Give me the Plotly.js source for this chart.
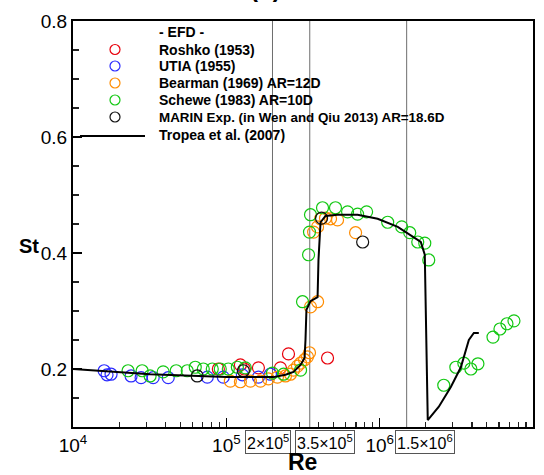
<!DOCTYPE html>
<html><head><meta charset="utf-8">
<script src="https://cdn.plot.ly/plotly-3.0.1.min.js"></script>
<style>body{margin:0;background:#fff}#chart{width:544px;height:475px}</style>
</head><body><div id="chart"></div>
<script>
// ---- data ----
const roshkoRe = [88700, 123500, 131200, 161900, 225300, 254300, 457100];
const roshkoSt = [0.200, 0.207, 0.200, 0.202, 0.202, 0.226, 0.219];

const utiaRe = [15960, 16670, 17710, 23920, 27800, 33330, 41780, 75160, 95530, 127200, 161900, 194000];
const utiaSt = [0.197, 0.190, 0.191, 0.188, 0.185, 0.185, 0.185, 0.186, 0.186, 0.190, 0.186, 0.191];

const bearmanRe = [106200, 123500, 143600, 166900, 188200, 215500, 243000, 262000, 274000, 291000, 304800, 323700, 338200, 348600, 353900, 393600, 370800, 393600, 411500, 443400, 478200, 531100, 696600];
const bearmanSt = [0.179, 0.178, 0.179, 0.179, 0.183, 0.186, 0.188, 0.191, 0.198, 0.205, 0.210, 0.216, 0.221, 0.228, 0.307, 0.316, 0.436, 0.445, 0.459, 0.460, 0.459, 0.457, 0.435];

const scheweRe = [22860, 28240, 31830, 38730, 47100, 55590, 62700, 70760, 80960, 91300, 103000, 118000, 133100, 200000, 236000, 304800, 314000, 343800, 348600, 353900, 423900, 515000, 617700, 718000, 822000, 1128000, 1393000, 1571000, 1772000, 1969000, 2090000, 2618000, 3139000, 3540000, 3935000, 4374000, 5484000, 6087000, 6763000, 7513000];
const scheweSt = [0.197, 0.197, 0.188, 0.195, 0.197, 0.197, 0.203, 0.200, 0.200, 0.200, 0.200, 0.203, 0.202, 0.193, 0.191, 0.198, 0.316, 0.397, 0.436, 0.466, 0.478, 0.478, 0.471, 0.467, 0.471, 0.453, 0.445, 0.435, 0.419, 0.417, 0.388, 0.172, 0.203, 0.210, 0.200, 0.209, 0.255, 0.269, 0.278, 0.283];

const marinRe = [64570, 129200, 417800, 774600];
const marinSt = [0.188, 0.197, 0.460, 0.419];

const tropeaRe = [10000, 31800, 100000, 202800, 243000, 274000, 304700, 323700, 328300, 333000, 354000, 393600, 399000, 405400, 411500, 443400, 531100, 717800, 970000, 1312000, 1668000, 1854000, 1969000, 2000000, 2029000, 2059000, 2431000, 2912000, 3383000, 3816000, 4113000, 4432000];
const tropeaSt = [0.200, 0.191, 0.186, 0.186, 0.190, 0.195, 0.207, 0.219, 0.250, 0.302, 0.317, 0.324, 0.388, 0.426, 0.453, 0.464, 0.466, 0.466, 0.459, 0.445, 0.428, 0.419, 0.397, 0.297, 0.216, 0.112, 0.135, 0.169, 0.203, 0.250, 0.262, 0.262];

const regimeRe = [2e5, 3.5e5, 1.5e6];
const regimeLabels = ['2×10<sup>5</sup>', '3.5×10<sup>5</sup>', '1.5×10<sup>6</sup>'];

const xTickVals = [1e4, 1e5, 1e6, 1e7];
const xTickText = ['10<sup>4</sup>', '10<sup>5</sup>', '10<sup>6</sup>', '10<sup>7</sup>'];
const xMinorVals = [2e4,3e4,4e4,5e4,6e4,7e4,8e4,9e4,2e5,3e5,4e5,5e5,6e5,7e5,8e5,9e5,2e6,3e6,4e6,5e6,6e6,7e6,8e6,9e6];
const yTickVals = [0.2, 0.4, 0.6, 0.8];
const yTickText = ['0.2', '0.4', '0.6', '0.8'];
const yMinorVals = [0.15, 0.25, 0.3, 0.35, 0.45, 0.5, 0.55, 0.65, 0.7, 0.75];

const series = [
  {name: 'Roshko (1953)', re: roshkoRe, st: roshkoSt, color: '#e8000b'},
  {name: 'UTIA (1955)', re: utiaRe, st: utiaSt, color: '#2b2bff'},
  {name: 'Bearman (1969) AR=12D', re: bearmanRe, st: bearmanSt, color: '#ff8c00'},
  {name: 'Schewe (1983) AR=10D', re: scheweRe, st: scheweSt, color: '#12c812'},
  {name: 'MARIN Exp. (in Wen and Qiu 2013) AR=18.6D', re: marinRe, st: marinSt, color: '#111111'}
];

// ---- geometry helpers (plot area in pixels) ----
const L = 73, R = 533, T = 21, B = 427;
const px = x => (x - L) / (R - L);
const py = y => (B - y) / (B - T);
const FONT = 'Liberation Sans, Arial, Helvetica, sans-serif';

const traces = [];
regimeRe.forEach(v => traces.push({
  x: [v, v], y: [0.1, 0.8], mode: 'lines', type: 'scatter',
  line: {color: '#6e6e6e', width: 1}, hoverinfo: 'skip', showlegend: false
}));
series.forEach(s => traces.push({
  x: s.re, y: s.st, mode: 'markers', type: 'scatter', name: s.name,
  marker: {symbol: 'circle-open', size: 12, color: s.color, line: {width: 1.2, color: s.color}},
  showlegend: false
}));
traces.push({
  x: tropeaRe, y: tropeaSt, mode: 'lines', type: 'scatter', name: 'Tropea et al. (2007)',
  line: {color: '#000000', width: 2}, showlegend: false
});
// invisible carrier trace for the minor-tick overlay axes
traces.push({x: [1e4], y: [0.1], xaxis: 'x2', yaxis: 'y2', mode: 'markers',
  marker: {opacity: 0}, hoverinfo: 'skip', showlegend: false});

const annotations = [];
const shapes = [];
const legendFont = {family:FONT, size:14, color:'#000'};
annotations.push({xref:'paper', yref:'paper', x: px(157), y: py(32), xanchor:'left', yanchor:'middle',
  text:'<b>- EFD -</b>', showarrow:false, font:legendFont});
const rowsY = [49.5, 66, 83, 100, 117];
series.forEach((s, i) => {
  annotations.push({xref:'paper', yref:'paper', x: px(157), y: py(rowsY[i]), xanchor:'left', yanchor:'middle',
    text:'<b>' + s.name + '</b>', showarrow:false,
    font: i === 4 ? {family:FONT, size:13.4, color:'#000'} : legendFont});
  shapes.push({type:'circle', xref:'paper', yref:'paper', xsizemode:'pixel', ysizemode:'pixel',
    xanchor: px(115), yanchor: py(rowsY[i]), x0:-5, x1:5, y0:-5, y1:5,
    line:{color:s.color, width:1.2}});
});
annotations.push({xref:'paper', yref:'paper', x: px(157), y: py(135), xanchor:'left', yanchor:'middle',
  text:'<b>Tropea et al. (2007)</b>', showarrow:false, font:legendFont});
shapes.push({type:'line', xref:'paper', yref:'paper', x0: px(80), x1: px(145), y0: py(136), y1: py(136),
  line:{color:'#000', width:2}});

// boxed regime labels
const boxLeft = [245, 295, 395];
regimeLabels.forEach((t, i) => annotations.push({
  xref:'paper', yref:'paper', x: px(boxLeft[i]), y: py(430), xanchor:'left', yanchor:'top',
  text: t, showarrow:false, font:{family:FONT, size:16, color:'#000'},
  bordercolor:'#555', borderwidth:1, borderpad:1, bgcolor:'#fff'
}));

// axis titles
annotations.push({xref:'paper', yref:'paper', x: px(29), y: py(246), xanchor:'center', yanchor:'middle',
  text:'<b>St</b>', showarrow:false, font:{family:FONT, size:20, color:'#000'}});
annotations.push({xref:'paper', yref:'paper', x: px(302), y: py(462), xanchor:'center', yanchor:'middle',
  text:'<b>Re</b>', showarrow:false, font:{family:FONT, size:23, color:'#000'}});
// figure title, mostly above the visible area (as in the reference)
annotations.push({xref:'paper', yref:'paper', x: px(265), y: py(-12), xanchor:'center', yanchor:'middle',
  text:'<b>(b)</b>', showarrow:false, font:{family:FONT, size:24, color:'#000'}});

const layout = {
  width: 544, height: 475,
  margin: {l: L, r: 544 - R, t: T, b: 475 - B, pad: 0},
  paper_bgcolor: '#fff', plot_bgcolor: '#fff',
  showlegend: false,
  xaxis: {
    type: 'log', range: [4, 7], tickmode: 'array', tickvals: xTickVals, ticktext: xTickText,
    ticks: 'inside', ticklen: 9, tickwidth: 1.5, tickcolor: '#000',
    showline: true, linewidth: 2, linecolor: '#000', mirror: true,
    showgrid: false, zeroline: false,
    tickfont: {family: FONT, size: 19, color: '#000'}
  },
  yaxis: {
    range: [0.1, 0.8], tickmode: 'array', tickvals: yTickVals, ticktext: yTickText,
    ticks: 'inside', ticklen: 9, tickwidth: 1.5, tickcolor: '#000',
    showline: true, linewidth: 2, linecolor: '#000', mirror: true,
    showgrid: false, zeroline: false,
    tickfont: {family: FONT, size: 19, color: '#000'}
  },
  xaxis2: {
    type: 'log', range: [4, 7], overlaying: 'x', anchor: 'y2', side: 'bottom',
    tickmode: 'array', tickvals: xMinorVals, showticklabels: false,
    ticks: 'inside', ticklen: 5, tickwidth: 1.2, tickcolor: '#222',
    showline: false, showgrid: false, zeroline: false
  },
  yaxis2: {
    range: [0.1, 0.8], overlaying: 'y', anchor: 'x2', side: 'left',
    tickmode: 'array', tickvals: yMinorVals, showticklabels: false,
    ticks: 'inside', ticklen: 6, tickwidth: 1.2, tickcolor: '#222',
    showline: false, showgrid: false, zeroline: false
  },
  annotations: annotations,
  shapes: shapes
};

Plotly.newPlot('chart', traces, layout, {staticPlot: true, displayModeBar: false});
</script></body></html>
